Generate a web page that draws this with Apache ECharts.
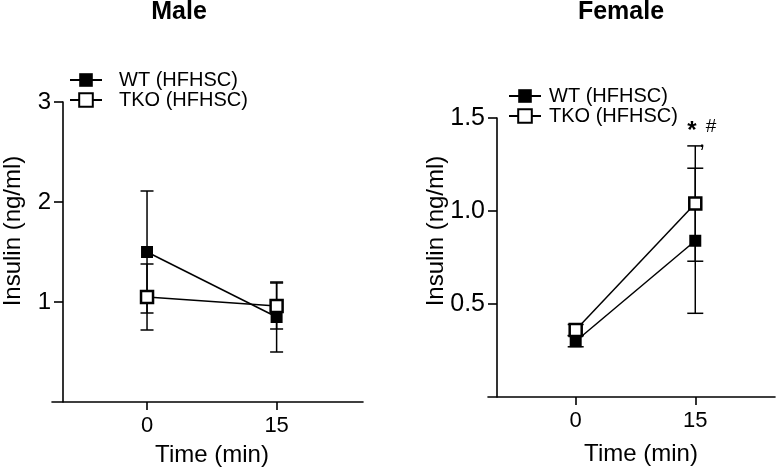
<!DOCTYPE html>
<html>
<head>
<meta charset="utf-8">
<script src="https://cdn.jsdelivr.net/npm/echarts@6/dist/echarts.min.js"></script>
<style>
html, body { margin: 0; padding: 0; background: #fff; }
#chart { width: 776px; height: 469px; }
</style>
</head>
<body>
<div id="chart"></div>
<script>
// data (mean and SEM)
const times = [0, 15];
const seriesNames = ["WT (HFHSC)", "TKO (HFHSC)"];
const panelTitles = ["Male", "Female"];

const maleWT = [1.50, 0.85];
const maleWTErr = [0.61, 0.35];
const maleTKO = [1.05, 0.96];
const maleTKOErr = [0.33, 0.23];

const femaleWT = [0.30, 0.84];
const femaleWTErr = [0.03, 0.39];
const femaleTKO = [0.36, 1.04];
const femaleTKOErr = [0.03, 0.31];

const maleYTicks = [1, 2, 3];
const femaleYTicks = [0.5, 1.0, 1.5];

const FONT = "Liberation Sans, Arial, Helvetica, sans-serif";

const chart = echarts.init(document.getElementById("chart"));

function errBars(capW) {
    return function (params, api) {
        const x = api.value(0), y = api.value(1), e = api.value(2);
        const top = api.coord([x, y + e]);
        const bot = api.coord([x, y - e]);
        const st = { stroke: "#000", lineWidth: 1.5 };
        return {
            type: "group",
            children: [
                { type: "line", shape: { x1: top[0], y1: top[1], x2: bot[0], y2: bot[1] }, style: st },
                { type: "line", shape: { x1: top[0] - capW / 2, y1: top[1], x2: top[0] + capW / 2, y2: top[1] }, style: st },
                { type: "line", shape: { x1: bot[0] - capW / 2, y1: bot[1], x2: bot[0] + capW / 2, y2: bot[1] }, style: st },
            ],
        };
    };
}

function pts(vals) { return times.map((t, i) => [t, vals[i]]); }
function errPts(vals, errs) { return times.map((t, i) => [t, vals[i], errs[i]]); }

function xAxisFor(gi) {
    return {
        gridIndex: gi,
        type: "value",
        min: -11,
        max: 25,
        axisLine: { show: true, onZero: false, lineStyle: { color: "#000", width: 1.6 } },
        axisTick: { show: true, length: 8, lineStyle: { color: "#000", width: 1.6 }, customValues: times },
        axisLabel: { customValues: times, color: "#000", fontSize: 22, fontFamily: FONT, margin: 13 },
        splitLine: { show: false },
    };
}

function yAxisFor(gi, max, interval, ticks, offset, fs, fmt) {
    return {
        gridIndex: gi,
        type: "value",
        min: 0,
        max: max,
        interval: interval,
        offset: offset,
        axisLine: { show: true, onZero: false, lineStyle: { color: "#000", width: 1.6 } },
        axisTick: { show: true, length: 9, lineStyle: { color: "#000", width: 1.6 }, customValues: ticks },
        axisLabel: { customValues: ticks, color: "#000", fontSize: fs, fontFamily: FONT, margin: 12, formatter: fmt },
        splitLine: { show: false },
    };
}

function lineSeries(name, gi, vals, open, z) {
    return {
        name: name,
        type: "line",
        xAxisIndex: gi,
        yAxisIndex: gi,
        data: pts(vals),
        symbol: "rect",
        symbolSize: 12,
        showAllSymbol: true,
        z: z,
        lineStyle: { color: "#000", width: 1.5 },
        itemStyle: open
            ? { color: "#fff", borderColor: "#000", borderWidth: 2.5 }
            : { color: "#000", borderColor: "#000", borderWidth: 0 },
        emphasis: { disabled: true },
    };
}

function errSeries(gi, vals, errs, capW) {
    return {
        type: "custom",
        xAxisIndex: gi,
        yAxisIndex: gi,
        renderItem: errBars(capW),
        data: errPts(vals, errs),
        z: 1,
        silent: true,
    };
}

function legendFor(left, top, pad) {
    return {
        data: seriesNames,
        orient: "vertical",
        left: left,
        top: top,
        itemWidth: 32,
        itemHeight: 17,
        itemGap: 0,
        selectedMode: false,
        textStyle: { color: "#000", fontSize: 20, fontFamily: FONT, lineHeight: 19, padding: [0, 0, 0, pad] },
    };
}

function txt(text, x, y, size, weight, rot) {
    return {
        type: "text",
        x: x,
        y: y,
        rotation: rot || 0,
        style: {
            text: text,
            fill: "#000",
            font: (weight || "normal") + " " + size + "px " + FONT,
            textAlign: "center",
            textVerticalAlign: "middle",
        },
    };
}

const option = {
    backgroundColor: "#fff",
    animation: false,
    grid: [
        { left: 52, width: 311, top: 102, height: 300 },
        { left: 488, width: 287, top: 118, height: 279 },
    ],
    xAxis: [xAxisFor(0), xAxisFor(1)],
    yAxis: [
        yAxisFor(0, 3, 1, maleYTicks, -11, 24, (v) => String(v)),
        yAxisFor(1, 1.5, 0.5, femaleYTicks, -9, 25, (v) => v.toFixed(1)),
    ],
    legend: [legendFor(64, 65, 12), legendFor(503, 81, 3)],
    series: [
        errSeries(0, maleWT, maleWTErr, 13),
        errSeries(0, maleTKO, maleTKOErr, 13),
        lineSeries(seriesNames[0], 0, maleWT, false, 2),
        lineSeries(seriesNames[1], 0, maleTKO, true, 3),
        errSeries(1, femaleWT, femaleWTErr, 16),
        errSeries(1, femaleTKO, femaleTKOErr, 16),
        lineSeries(seriesNames[0], 1, femaleWT, false, 2),
        lineSeries(seriesNames[1], 1, femaleTKO, true, 3),
    ],
    graphic: [
        txt(panelTitles[0], 179, 12, 25, "bold"),
        txt(panelTitles[1], 621, 12, 25, "bold"),
        txt("Insulin (ng/ml)", 13, 231, 24, "normal", Math.PI / 2),
        txt("Insulin (ng/ml)", 436, 231, 24, "normal", Math.PI / 2),
        txt("Time (min)", 212, 455, 24),
        txt("Time (min)", 641, 454, 24),
        txt("*", 692, 131, 24, "bold"),
        txt(",", 702, 141, 22),
        txt("#", 711, 127, 19),
    ],
};

chart.setOption(option);
</script>
</body>
</html>
